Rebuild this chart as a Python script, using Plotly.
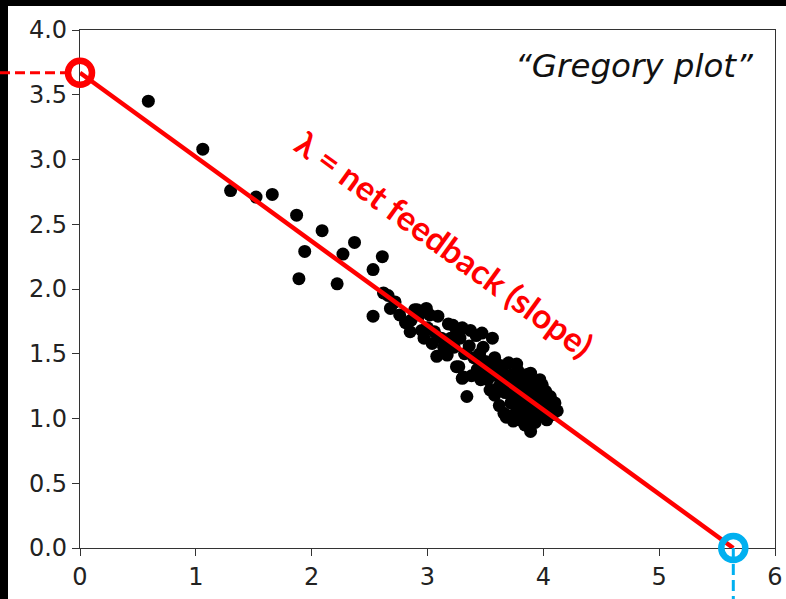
import plotly.graph_objects as go

# Regression line: forcing (y-intercept) and equilibrium warming (x-intercept)
forcing = 3.67
warming_eq = 5.64

# Annual means: global surface warming (K) vs. TOA net downward flux (W m-2)
temp = [
    0.59, 1.06, 1.30, 1.52, 1.66, 1.87, 2.09, 1.94, 2.27, 2.37,
    2.61, 2.53, 1.89, 2.22, 2.62, 2.72, 2.53, 2.76, 2.81, 2.89,
    2.85, 2.91, 2.99, 2.95, 3.09, 3.18, 3.04, 3.08, 3.17, 3.14,
    3.25, 3.27, 3.30, 3.34, 2.93, 3.02, 3.37, 3.47, 3.56, 3.25,
    3.31, 3.51, 3.54, 3.68, 3.89, 3.77, 3.89, 3.97, 4.06, 4.12,
    4.03, 3.80, 3.22, 3.30, 3.42,
    3.45, 3.50, 3.52, 3.55, 3.58, 3.60, 3.62, 3.63, 3.65, 3.67,
    3.68, 3.70, 3.71, 3.72, 3.73, 3.75, 3.76, 3.77, 3.78, 3.79,
    3.80, 3.81, 3.82, 3.83, 3.84, 3.85, 3.86, 3.87, 3.88, 3.89,
    3.90, 3.91, 3.92, 3.93, 3.94, 3.95, 3.96, 3.97, 3.98, 3.99,
    4.00, 4.01, 4.02, 4.03, 4.04, 4.05, 4.07, 4.08, 4.09, 4.10,
    3.74, 3.84, 3.58, 3.62, 3.66, 3.71,
    3.20, 3.23, 3.28, 3.32, 3.36, 3.40, 3.43, 3.46, 3.48, 3.38,
    3.12, 3.00, 2.97, 3.06, 2.86, 2.68, 2.66,
]
flux = [
    3.45, 3.08, 2.76, 2.71, 2.73, 2.57, 2.45, 2.29, 2.27, 2.36,
    2.25, 2.15, 2.08, 2.04, 1.97, 1.90, 1.79, 1.80, 1.74, 1.84,
    1.67, 1.84, 1.85, 1.68, 1.79, 1.73, 1.58, 1.48, 1.49, 1.55,
    1.68, 1.40, 1.31, 1.17, 1.80, 1.80, 1.68, 1.66, 1.62, 1.40,
    1.32, 1.37, 1.22, 1.01, 0.90, 1.42, 1.35, 1.30, 1.17, 1.06,
    0.99, 0.99, 1.72, 1.70, 1.64,
    1.50, 1.44, 1.30, 1.40, 1.47, 1.33, 1.25, 1.41, 1.36, 1.20,
    1.30, 1.43, 1.25, 1.12, 1.34, 1.19, 1.28, 1.06, 1.37, 1.22,
    1.13, 1.30, 1.05, 1.18, 1.26, 1.10, 1.34, 1.01, 1.21, 1.14,
    1.28, 1.07, 1.19, 0.97, 1.24, 1.12, 1.03, 1.20, 1.09, 1.26,
    1.15, 1.02, 1.21, 1.10, 1.05, 1.16, 1.12, 1.03, 1.08, 1.12,
    0.98, 0.95, 1.18, 1.10, 1.04, 1.02,
    1.62, 1.55, 1.62, 1.50, 1.56, 1.47, 1.38, 1.30, 1.55, 1.33,
    1.62, 1.70, 1.62, 1.67, 1.76, 1.85, 1.95,
]

x_range = [0, 6]
y_range = [0, 4.0]

W, H = 786, 599
ML, MR, MT, MB = 80, 11, 30, 51
PW, PH = W - ML - MR, H - MT - MB

RED = "#ff0000"
BLUE = "#00b0f0"
AXIS = "#333333"

fig = go.Figure()

fig.add_trace(go.Scatter(
    x=temp, y=flux, mode="markers",
    marker=dict(color="black", size=13, line=dict(width=0)),
    hoverinfo="skip", showlegend=False,
))

fig.add_trace(go.Scatter(
    x=[0, warming_eq], y=[forcing, 0], mode="lines",
    line=dict(color=RED, width=4.5),
    hoverinfo="skip", showlegend=False,
))

fig.add_trace(go.Scatter(
    x=[0], y=[forcing], mode="markers", cliponaxis=False,
    marker=dict(symbol="circle-open", size=24, color=RED, line=dict(width=6.5, color=RED)),
    hoverinfo="skip", showlegend=False,
))

fig.add_trace(go.Scatter(
    x=[warming_eq], y=[0], mode="markers", cliponaxis=False,
    marker=dict(symbol="circle-open", size=24, color=BLUE, line=dict(width=6.5, color=BLUE)),
    hoverinfo="skip", showlegend=False,
))

page_left = -ML / PW
page_right = 1 + MR / PW
page_bottom = -MB / PH
page_top = 1 + MT / PH

shapes = [
    # dark frame strips along the left and top edges of the page
    dict(type="rect", xref="paper", yref="paper", layer="below",
         x0=page_left - 0.01, x1=page_left + 8 / PW, y0=page_bottom - 0.01, y1=page_top + 0.01,
         fillcolor="black", line=dict(width=0)),
    dict(type="rect", xref="paper", yref="paper", layer="below",
         x0=page_left - 0.01, x1=page_right + 0.01, y0=page_top - 6 / PH, y1=page_top + 0.01,
         fillcolor="black", line=dict(width=0)),
    # dashed guide from the forcing intercept to the left edge
    dict(type="line", xref="paper", yref="y", layer="above",
         x0=page_left, x1=-14 / PW, y0=forcing, y1=forcing,
         line=dict(color=RED, width=3, dash="10px,5px")),
    # dashed guide from the equilibrium warming intercept downwards
    dict(type="line", xref="x", yref="paper", layer="above",
         x0=warming_eq, x1=warming_eq, y0=0, y1=page_bottom,
         line=dict(color=BLUE, width=3, dash="11px,5px")),
]

annotations = [
    dict(x=4.79, y=3.72, xref="x", yref="y", showarrow=False,
         text="\u201cGregory plot\u201d",
         font=dict(family="DejaVu Sans", size=32.5, color="#111111", style="italic")),
    dict(x=3.15, y=2.35, xref="x", yref="y", showarrow=False,
         text="\u03bb = net feedback (slope)", textangle=36,
         font=dict(family="Lato", size=34, color=RED, weight="bold")),
]

axis_common = dict(
    showgrid=False, zeroline=False, automargin=False,
    showline=True, linecolor=AXIS, linewidth=1.3, mirror=True,
    ticks="outside", ticklen=7, tickwidth=1.3, tickcolor=AXIS,
    tickfont=dict(family="DejaVu Sans", size=24, color="#222222"),
    layer="below traces",
)

fig.update_layout(
    width=W, height=H,
    margin=dict(l=ML, r=MR, t=MT, b=MB, pad=0, autoexpand=False),
    paper_bgcolor="white", plot_bgcolor="white",
    xaxis=dict(range=x_range, tick0=0, dtick=1, **axis_common),
    yaxis=dict(range=y_range, tick0=0, dtick=0.5, tickformat=".1f", **axis_common),
    shapes=shapes,
    annotations=annotations,
    showlegend=False,
)

fig.write_html("out.html")
